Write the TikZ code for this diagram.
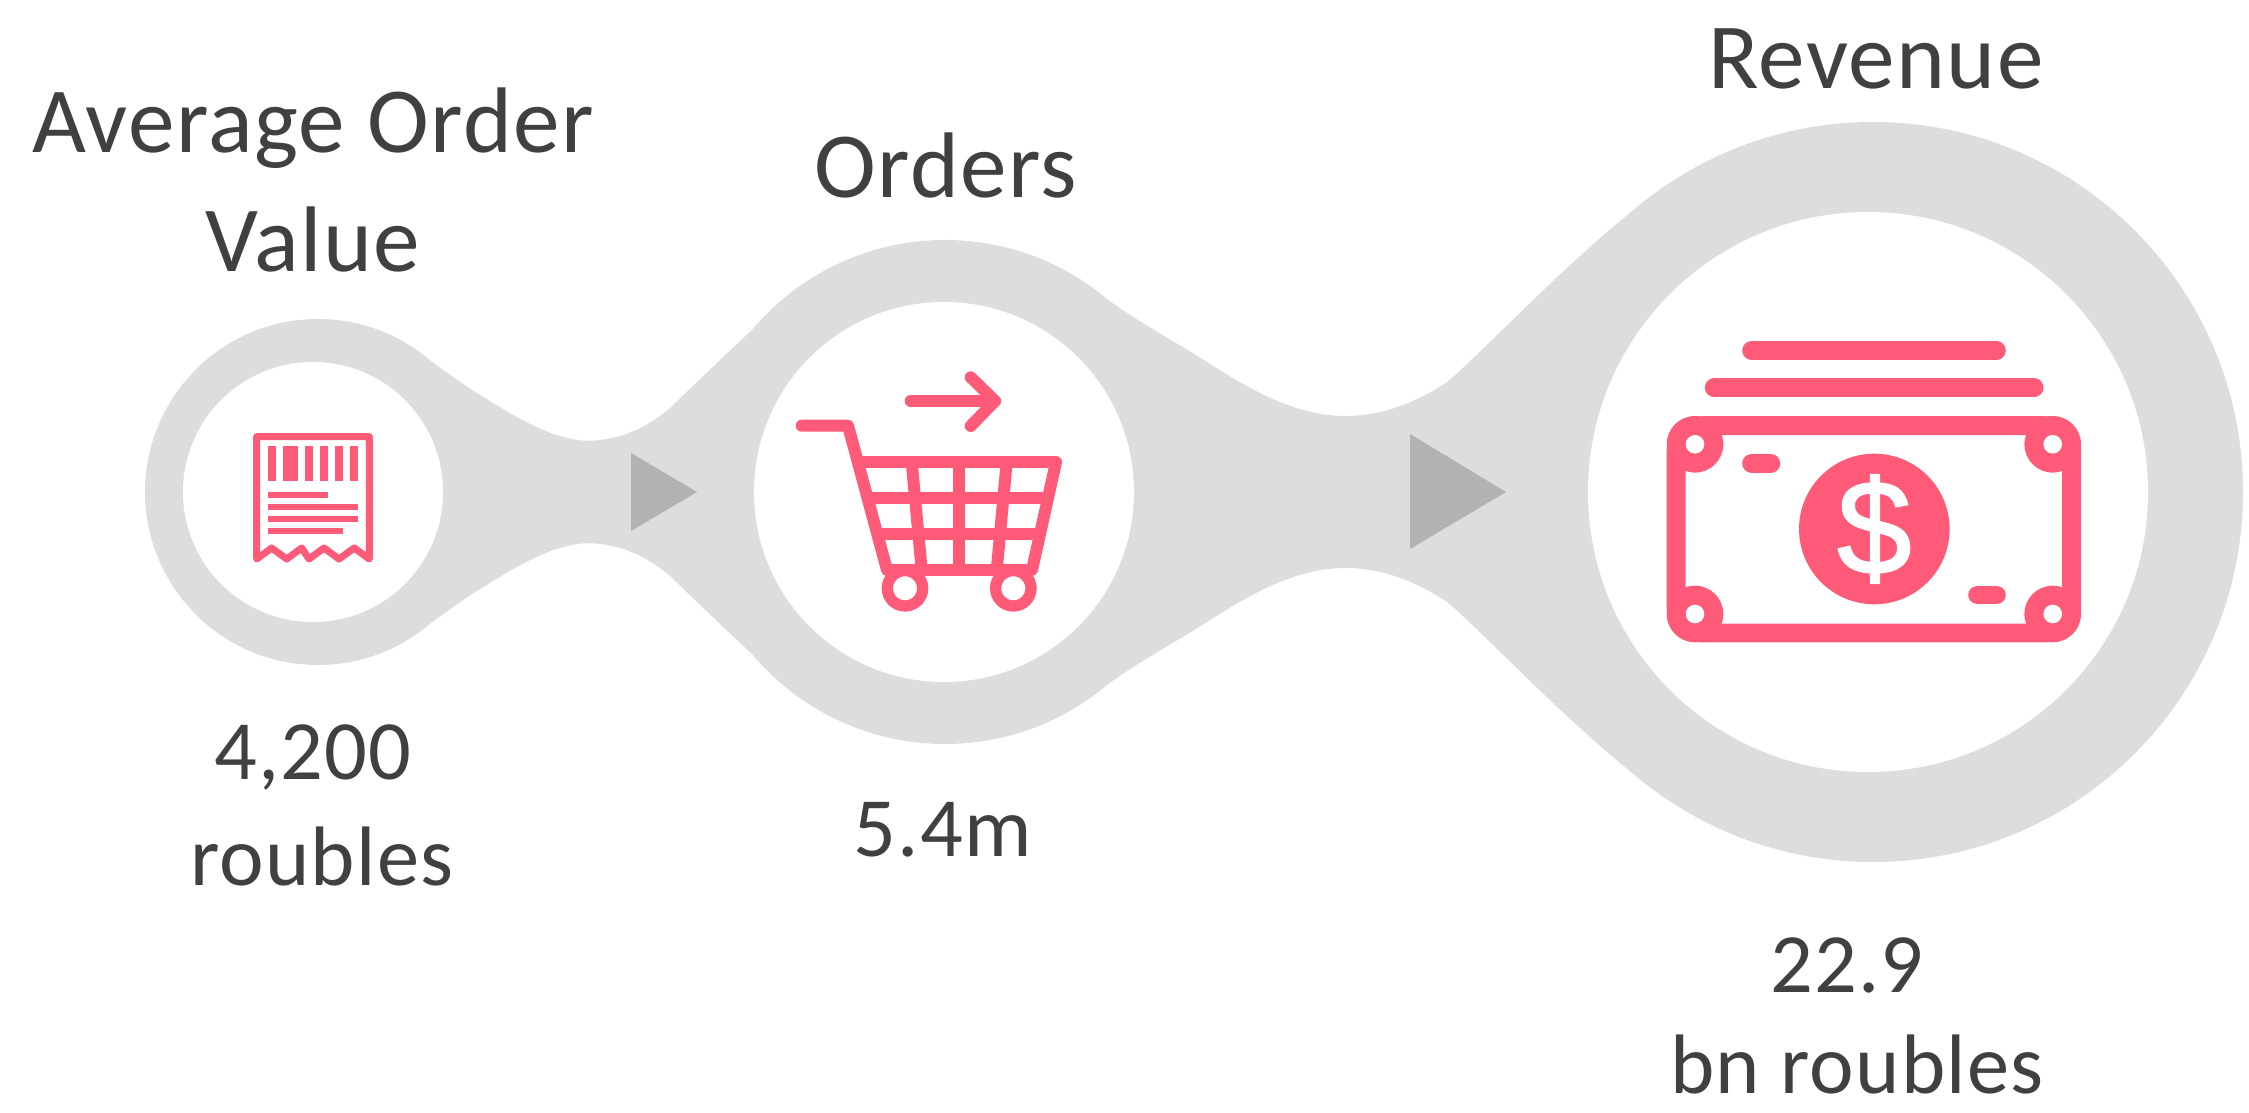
\documentclass[tikz,border=0pt]{standalone}
\usepackage{fontspec}
\setmainfont[LetterSpace=1.5]{Carlito}
\newfontfamily\dollarfont[FakeBold=1.5]{Liberation Sans}
\usepackage{tikz}
\usetikzlibrary{positioning, calc}
\definecolor{flowgrey}{HTML}{DCDDDC}
\definecolor{tipgrey}{HTML}{B2B2B2}
\definecolor{iconpink}{HTML}{FF5A78}
\definecolor{labelgrey}{HTML}{404040}
\begin{document}
\begin{tikzpicture}[x=0.01cm, y=-0.01cm,
  label/.style={anchor=base, inner sep=0pt, text=labelgrey, font=\fontsize{26.5}{30}\selectfont},
  valuelabel/.style={label, font=\fontsize{24}{28}\selectfont},
  blob/.style={fill=flowgrey},
  hole/.style={fill=white},
  tip/.style={fill=tipgrey},
  iconfill/.style={fill=iconpink},
  iconline/.style={draw=iconpink, line width=3.4pt, line cap=round, line join=round},
  thinline/.style={draw=iconpink, line width=2pt, line cap=round, line join=round},
  billline/.style={draw=iconpink, line width=5.4pt, line cap=round}]
  \useasboundingbox (0,0) rectangle (2249,1113);
  % grey flow
  \fill[blob] (318,492) circle (173);
  \fill[blob] (945,492) circle (252);
  \fill[blob] (1873,492) circle (370);
  \fill[blob] (400,341) .. controls (430,358) and (455,380) .. (480,395)
    .. controls (505,410) and (550,440.7) .. (588.3,440.7)
    .. controls (615,440.7) and (645,430) .. (670,408)
    .. controls (695,384) and (725,355) .. (752,330)
    -- (752,654) .. controls (725,629) and (695,600) .. (670,576)
    .. controls (645,554) and (615,543.3) .. (588.3,543.3)
    .. controls (550,543.3) and (505,574) .. (480,589)
    .. controls (455,604) and (430,626) .. (400,643) -- cycle;
  \fill[blob] (1108,300) .. controls (1138,321) and (1168,338) .. (1198.6,356.7)
    .. controls (1240,383) and (1290,416) .. (1345,416)
    .. controls (1385,416) and (1420,400) .. (1447.6,381.7)
    .. controls (1490,345) and (1570,258) .. (1650,197)
    -- (1650,787) .. controls (1570,726) and (1490,639) .. (1447.6,602.3)
    .. controls (1420,584) and (1385,568) .. (1345,568)
    .. controls (1290,568) and (1240,601) .. (1198.6,627.3)
    .. controls (1168,646) and (1138,663) .. (1108,684) -- cycle;
  \fill[hole] (313,492) circle (130);
  \fill[hole] (944,492) circle (190);
  \fill[hole] (1868,492) circle (280);
  \fill[tip] (631,453) -- (697,492) -- (631,531) -- cycle;
  \fill[tip] (1410,434) -- (1506,492) -- (1410,549) -- cycle;
  % receipt
  \draw[thinline] (256.7,559) -- (256.7,436.7) -- (369.3,436.7) -- (369.3,559)
    -- (354.3,548) -- (339,559) -- (324,548) -- (309,559) -- (301.7,548)
    -- (286.7,559) -- (271.7,548) -- cycle;
  \foreach \xa/\xb in {268.3/276, 283.3/298.3, 305.3/313, 320.3/328, 335.3/342.7, 350.3/357.7}
    \fill[iconfill] (\xa,446) rectangle (\xb,480.7);
  \foreach \ya/\xb in {492.3/328, 504.3/357.7, 516/357.7, 527.7/342.7}
    \fill[iconfill] (268.3,\ya) rectangle (\xb,\ya+6);
  % cart
  \draw[iconline] (910.7,401) -- (995,401);
  \draw[iconline] (970.7,377.3) -- (995,401) -- (970.7,426);
  \draw[iconline] (801.7,425.7) -- (848,425.7) -- (887,570) -- (1032,570) -- (1056,462) -- (862,462);
  \draw[iconline, line cap=butt] (868,498) -- (1047,498);
  \draw[iconline, line cap=butt] (876,534) -- (1039,534);
  \draw[iconline, line cap=butt] (959,462) -- (959,570);
  \draw[iconline, line cap=butt] (911.7,462) -- (921.7,570);
  \draw[iconline, line cap=butt] (1006.7,462) -- (996.7,570);
  \foreach \xa in {905,1013.3}
    \draw[draw=iconpink, fill=white, line width=3.2pt] (\xa,588.3) circle (17.7);
  % money
  \draw[billline] (1751.7,350.5) -- (1996.3,350.5);
  \draw[billline] (1714.3,387.8) -- (2034,387.8);
  \draw[billline] (1751.7,463.3) -- (1770.7,463.3);
  \draw[billline] (1977.7,595) -- (1996.3,595);
  \draw[draw=iconpink, line width=5.4pt, rounded corners=8pt] (1676,425.7) rectangle (2071.7,633);
  \foreach \xa/\ya in {1695/444.3, 2052.7/444.3, 1695/614, 2052.7/614} {
    \fill[iconfill] (\xa,\ya) circle (28.3);
    \fill[hole] (\xa,\ya) circle (9.3);
  }
  \fill[iconfill] (1874.3,529) circle (75.3);
  \node[inner sep=0pt, text=white, font=\dollarfont\fontsize{38}{40}\selectfont] (dollar) at (1874.3,529) {\$};
  % labels
  \node[label] (aov1) at (313,153) {Average Order};
  \node[label] (aov2) at (313,272) {Value};
  \node[label] (ord) at (946,198) {Orders};
  \node[label] (rev) at (1876,89) {Revenue};
  \node[valuelabel] (aovval1) at (313,779) {4,200};
  \node[valuelabel] (aovval2) at (322,885) {roubles};
  \node[valuelabel] (ordval) at (943,856) {5.4m};
  \node[valuelabel] (revval1) at (1847,992.5) {22.9};
  \node[valuelabel] (revval2) at (1857,1093) {bn roubles};
\end{tikzpicture}
\end{document}
